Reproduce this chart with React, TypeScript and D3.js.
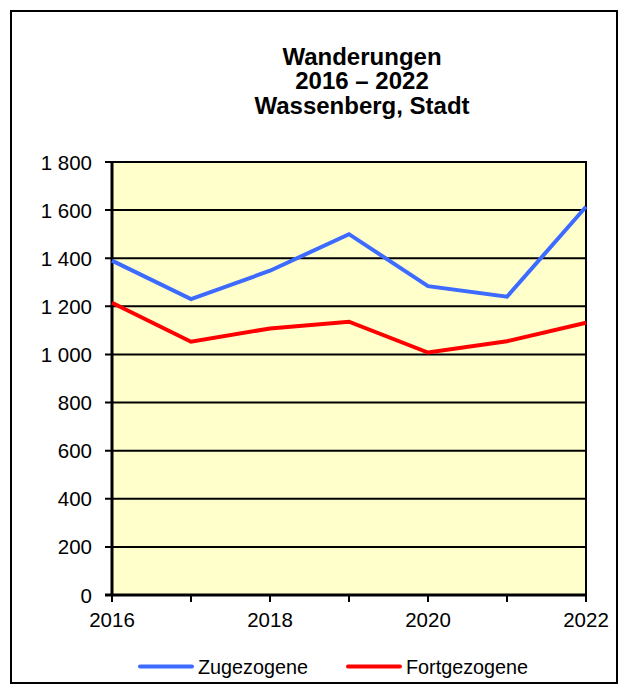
import React, { useEffect, useRef } from 'react'
import * as d3 from 'd3'

const years = [2016, 2017, 2018, 2019, 2020, 2021, 2022]
const zugezogene = [1390, 1230, 1348, 1500, 1284, 1240, 1614]
const fortgezogene = [1215, 1053, 1108, 1136, 1008, 1055, 1132]
const yTicks = [0, 200, 400, 600, 800, 1000, 1200, 1400, 1600, 1800]
const xLabels = [2016, 2018, 2020, 2022]
const titleLines = ['Wanderungen', '2016 – 2022', 'Wassenberg, Stadt']

const fmt = (v: number) => (v >= 1000 ? `${Math.floor(v / 1000)} ${String(v % 1000).padStart(3, '0')}` : String(v))

export default function App() {
  const svgRef = useRef<SVGSVGElement>(null)

  useEffect(() => {
    const svg = d3.select(svgRef.current)
    svg.selectAll('*').remove()
    const font = 'Liberation Sans, Arial, sans-serif'

    // outer frame
    svg.append('rect').attr('x', 11).attr('y', 11).attr('width', 606).attr('height', 672)
      .attr('fill', '#fff').attr('stroke', '#000').attr('stroke-width', 2)

    const x = d3.scaleLinear().domain([2016, 2022]).range([112, 586])
    const y = d3.scaleLinear().domain([0, 1800]).range([595, 162])

    svg.append('rect').attr('x', x(2016)).attr('y', y(1800))
      .attr('width', x(2022) - x(2016)).attr('height', y(0) - y(1800))
      .attr('fill', '#FFFFCC').attr('stroke', '#000').attr('stroke-width', 2)

    // grid lines
    svg.append('g').selectAll('line').data(yTicks).join('line')
      .attr('x1', x(2016) - 7).attr('x2', x(2022))
      .attr('y1', d => y(d)).attr('y2', d => y(d))
      .attr('stroke', '#000').attr('stroke-width', 2)

    svg.append('g').selectAll('text').data(yTicks).join('text')
      .attr('x', 92).attr('y', d => y(d) + 7.5)
      .attr('text-anchor', 'end').attr('font-family', font).attr('font-size', 20.5)
      .text(d => fmt(d))

    // axes
    svg.append('line').attr('x1', x(2016)).attr('x2', x(2016)).attr('y1', y(1800)).attr('y2', y(0) + 1)
      .attr('stroke', '#000').attr('stroke-width', 3)
    svg.append('line').attr('x1', x(2016) - 7).attr('x2', x(2022) + 1).attr('y1', y(0)).attr('y2', y(0))
      .attr('stroke', '#000').attr('stroke-width', 3)
    svg.append('g').selectAll('line').data(years).join('line')
      .attr('x1', d => x(d)).attr('x2', d => x(d)).attr('y1', y(0)).attr('y2', y(0) + 7)
      .attr('stroke', '#000').attr('stroke-width', 2)

    svg.append('g').selectAll('text').data(xLabels).join('text')
      .attr('x', d => x(d)).attr('y', y(0) + 32)
      .attr('text-anchor', 'middle').attr('font-family', font).attr('font-size', 20.5)
      .text(d => d)

    const line = d3.line<number>().x((_, i) => x(years[i])).y(d => y(d))
    svg.append('path').datum(fortgezogene).attr('d', line)
      .attr('fill', 'none').attr('stroke', '#FF0000').attr('stroke-width', 4)
    svg.append('path').datum(zugezogene).attr('d', line)
      .attr('fill', 'none').attr('stroke', '#3D6BFF').attr('stroke-width', 4)

    // title
    svg.append('g').selectAll('text').data(titleLines).join('text')
      .attr('x', 362).attr('y', (_, i) => 64.5 + i * 24.8)
      .attr('text-anchor', 'middle').attr('font-family', font).attr('font-size', 24)
      .attr('font-weight', 'bold').text(d => d)

    // legend
    const legend = [
      { name: 'Zugezogene', color: '#3D6BFF', x0: 140 },
      { name: 'Fortgezogene', color: '#FF0000', x0: 348 },
    ]
    const lg = svg.append('g').selectAll('g').data(legend).join('g')
    lg.append('line').attr('x1', d => d.x0).attr('x2', d => d.x0 + 52).attr('y1', 666.5).attr('y2', 666.5)
      .attr('stroke', d => d.color).attr('stroke-width', 4).attr('stroke-linecap', 'round')
    lg.append('text').attr('x', d => d.x0 + 58).attr('y', 673.5)
      .attr('font-family', font).attr('font-size', 19.8).text(d => d.name)
  }, [])

  return (
    <div>
      <svg ref={svgRef} width={627} height={693} style={{ position: 'absolute', left: 0, top: 0 }}></svg>
    </div>
  )
}
